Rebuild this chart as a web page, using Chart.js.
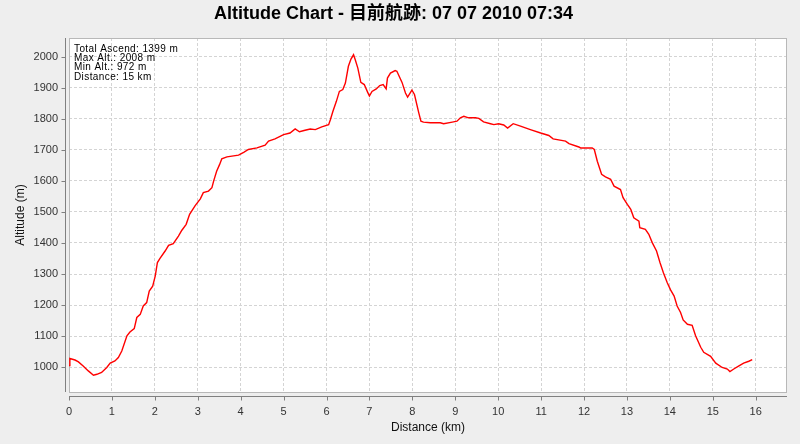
<!DOCTYPE html>
<html>
<head>
<meta charset="utf-8">
<script src="https://cdn.jsdelivr.net/npm/chart.js@4.4.0/dist/chart.umd.min.js"></script>
<style>
  html, body { margin: 0; padding: 0; background: #eeeeee; }
  #wrap { width: 800px; height: 444px; }
</style>
</head>
<body>
<div id="wrap"><canvas id="altChart" width="800" height="444"></canvas></div>
<script>
// track profile
const distanceKm = [
  0.00, 0.02, 0.14, 0.22, 0.33, 0.45, 0.57, 0.65, 0.76, 0.88, 0.96, 1.07, 1.15, 1.23, 1.35, 1.42,
  1.52, 1.58, 1.66, 1.73, 1.81, 1.87, 1.95, 2.01, 2.06, 2.12, 2.24, 2.32, 2.43, 2.55, 2.63, 2.73,
  2.81, 2.94, 3.06, 3.13, 3.25, 3.33, 3.37, 3.44, 3.51, 3.56, 3.68, 3.95, 4.07, 4.18, 4.38, 4.57,
  4.65, 4.80, 5.00, 5.15, 5.27, 5.37, 5.50, 5.62, 5.74, 5.89, 6.05, 6.09, 6.15, 6.23, 6.30, 6.38,
  6.44, 6.51, 6.57, 6.63, 6.67, 6.73, 6.80, 6.88, 6.96, 7.00, 7.06, 7.16, 7.24, 7.32, 7.39, 7.42,
  7.49, 7.60, 7.64, 7.76, 7.84, 7.89, 7.99, 8.05, 8.15, 8.20, 8.26, 8.42, 8.65, 8.73, 8.93, 9.04,
  9.12, 9.20, 9.31, 9.47, 9.55, 9.66, 9.82, 9.90, 10.01, 10.13, 10.22, 10.35, 10.52, 10.75, 10.99, 11.18,
  11.28, 11.57, 11.65, 11.88, 11.92, 12.19, 12.24, 12.31, 12.41, 12.50, 12.62, 12.70, 12.85, 12.91, 13.01, 13.09,
  13.16, 13.28, 13.30, 13.43, 13.51, 13.59, 13.69, 13.77, 13.85, 13.94, 14.02, 14.10, 14.17, 14.25, 14.31, 14.41,
  14.52, 14.60, 14.72, 14.79, 14.95, 15.07, 15.22, 15.34, 15.40, 15.49, 15.61, 15.72, 15.84, 15.92
];
const altitudeM = [
  1005, 1028, 1023, 1017, 1004, 988, 974, 977, 983, 999, 1013, 1020, 1031, 1052, 1101, 1113,
  1124, 1160, 1170, 1197, 1208, 1245, 1261, 1294, 1337, 1350, 1374, 1392, 1398, 1422, 1441, 1460,
  1492, 1520, 1542, 1562, 1567, 1578, 1599, 1631, 1653, 1671, 1677, 1683, 1692, 1701, 1706, 1715,
  1728, 1735, 1749, 1754, 1767, 1758, 1763, 1767, 1765, 1774, 1781, 1797, 1824, 1856, 1888, 1894,
  1915, 1969, 1992, 2006, 1990, 1963, 1917, 1910, 1885, 1873, 1888, 1896, 1907, 1910, 1896, 1931,
  1947, 1955, 1953, 1917, 1883, 1870, 1892, 1878, 1819, 1792, 1789, 1787, 1787, 1784, 1789, 1792,
  1803, 1808, 1803, 1803, 1801, 1790, 1784, 1781, 1784, 1780, 1770, 1784, 1776, 1765, 1754, 1746,
  1735, 1728, 1720, 1709, 1706, 1706, 1701, 1663, 1621, 1613, 1605, 1583, 1572, 1546, 1524, 1508,
  1481, 1470, 1449, 1444, 1428, 1401, 1374, 1337, 1304, 1272, 1248, 1229, 1197, 1176, 1152, 1138,
  1135, 1101, 1064, 1048, 1035, 1013, 999, 994, 986, 994, 1004, 1013, 1019, 1024
];

const chartTitle = 'Altitude Chart - 目前航跡: 07 07 2010 07:34';
const statLines = ['Total Ascend: 1399 m', 'Max Alt.: 2008 m', 'Min Alt.: 972 m', 'Distance: 15 km'];
const xTitle = 'Distance (km)';
const yTitle = 'Altitude (m)';

const points = distanceKm.map((d, i) => ({ x: d, y: altitudeM[i] }));

// plot background, frame, offset axis lines and the stats box
const plotDecor = {
    id: 'plotDecor',
    beforeDraw(chart) {
        const ctx = chart.ctx;
        const a = chart.chartArea;
        ctx.save();
        ctx.fillStyle = '#eeeeee';
        ctx.fillRect(0, 0, chart.width, chart.height);
        ctx.fillStyle = '#ffffff';
        ctx.fillRect(a.left, a.top, a.right - a.left, a.bottom - a.top);
        ctx.restore();
    },
    beforeDatasetsDraw(chart) {
        const ctx = chart.ctx;
        const a = chart.chartArea;
        ctx.save();
        ctx.strokeStyle = '#b8b8b8';
        ctx.lineWidth = 1;
        ctx.strokeRect(a.left + 0.5, a.top + 0.5, a.right - a.left - 1, a.bottom - a.top);
        ctx.restore();
    },
    afterDraw(chart) {
        const ctx = chart.ctx;
        const a = chart.chartArea;
        const xs = chart.scales.x;
        const ys = chart.scales.y;
        ctx.save();
        ctx.strokeStyle = '#808080';
        ctx.lineWidth = 1;
        // y axis line + ticks
        ctx.beginPath();
        ctx.moveTo(a.left - 3.5, a.top);
        ctx.lineTo(a.left - 3.5, a.bottom);
        ys.ticks.forEach(t => {
            const py = Math.round(ys.getPixelForValue(t.value)) + 0.5;
            ctx.moveTo(a.left - 3.5, py);
            ctx.lineTo(a.left - 7.5, py);
        });
        // x axis line + ticks
        ctx.moveTo(a.left, a.bottom + 4.5);
        ctx.lineTo(a.right, a.bottom + 4.5);
        xs.ticks.forEach(t => {
            const px = Math.round(xs.getPixelForValue(t.value)) + 0.5;
            ctx.moveTo(px, a.bottom + 4.5);
            ctx.lineTo(px, a.bottom + 8.5);
        });
        ctx.stroke();

        // stats text
        ctx.fillStyle = '#000000';
        ctx.font = '10px "Liberation Sans", Arial, sans-serif';
        ctx.letterSpacing = '0.4px';
        ctx.textAlign = 'left';
        ctx.textBaseline = 'alphabetic';
        statLines.forEach((s, i) => {
            ctx.fillText(s, a.left + 5, a.top + 13.5 + i * 9.4);
        });
        ctx.restore();
    }
};

const ctx = document.getElementById('altChart').getContext('2d');
new Chart(ctx, {
    type: 'line',
    data: {
        datasets: [{
            label: 'Altitude',
            data: points,
            borderColor: '#ff0000',
            borderWidth: 1.4,
            pointRadius: 0,
            tension: 0,
            fill: false
        }]
    },
    options: {
        responsive: false,
        animation: false,
        layout: { padding: { left: 0, right: 13, top: 0, bottom: 0 } },
        plugins: {
            legend: { display: false },
            tooltip: { enabled: false },
            title: {
                display: true,
                text: chartTitle,
                color: '#000000',
                font: { family: '"Liberation Sans", Arial, "Noto Sans CJK TC", sans-serif', size: 18, weight: 'bold' },
                padding: { top: 3, bottom: 13.4 }
            }
        },
        scales: {
            x: {
                type: 'linear',
                min: 0,
                max: 16.73,
                afterFit(scale) { scale.height = 52; },
                border: { display: false, dash: [3, 2] },
                grid: {
                    color: '#d4d4d4',
                    drawTicks: false
                },
                ticks: {
                    stepSize: 1,
                    includeBounds: false,
                    padding: 13,
                    maxRotation: 0,
                    autoSkip: false,
                    color: '#333333',
                    font: { family: '"Liberation Sans", Arial, sans-serif', size: 11 }
                },
                title: {
                    display: true,
                    text: xTitle,
                    color: '#111111',
                    font: { family: '"Liberation Sans", Arial, sans-serif', size: 12 },
                    padding: { top: 0, bottom: 9 }
                }
            },
            y: {
                min: 920,
                max: 2060,
                afterFit(scale) { scale.width = 69; },
                border: { display: false, dash: [3, 2] },
                grid: {
                    color: '#d4d4d4',
                    drawTicks: false
                },
                ticks: {
                    stepSize: 100,
                    includeBounds: false,
                    padding: 11,
                    color: '#333333',
                    font: { family: '"Liberation Sans", Arial, sans-serif', size: 11 },
                    callback: v => String(v)
                },
                title: {
                    display: true,
                    text: yTitle,
                    color: '#111111',
                    font: { family: '"Liberation Sans", Arial, sans-serif', size: 12 },
                    padding: { top: 13, bottom: 0 }
                }
            }
        }
    },
    plugins: [plotDecor]
});
</script>
</body>
</html>
